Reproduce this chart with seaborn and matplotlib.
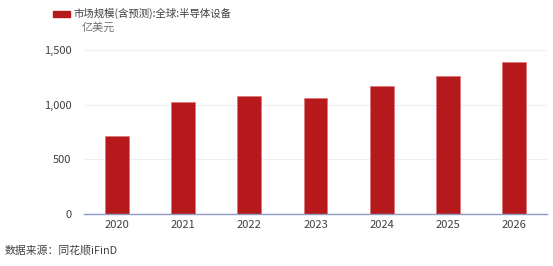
import matplotlib
matplotlib.use("Agg")
import matplotlib.pyplot as plt
import seaborn as sns
import pandas as pd
from matplotlib.patches import Rectangle

years = ["2020", "2021", "2022", "2023", "2024", "2025", "2026"]
values = [712, 1026, 1076, 1063, 1171, 1262, 1388]
yticks = [0, 500, 1000, 1500]
ytick_labels = ["0", "500", "1,000", "1,500"]
legend_label = "市场规模(含预测):全球:半导体设备"
unit_label = "亿美元"
source_label = "数据来源：同花顺iFinD"

sns.set_theme(style="white")
plt.rcParams['font.family'] = ['Noto Sans CJK SC', 'DejaVu Sans']

W, H = 553, 266
fig = plt.figure(figsize=(W / 100, H / 100), dpi=100)
ax = fig.add_axes([84 / W, 1 - 214 / H, (547 - 84) / W, (214 - 50) / H])

df = pd.DataFrame({"year": years, "value": values})
bar_color = "#B5191B"
sns.barplot(data=df, x="year", y="value", ax=ax, color=bar_color, width=0.36,
            saturation=1, edgecolor="#E07070", linewidth=0.4)

ax.set_ylim(0, 1500)
ax.set_xlim(-0.5, len(years) - 0.5)
ax.set_yticks(yticks)
ax.set_yticklabels(ytick_labels)
ax.set_xlabel("")
ax.set_ylabel("")
for s in ["top", "right", "left"]:
    ax.spines[s].set_visible(False)
ax.spines["bottom"].set_color("#8C9CC4")
ax.spines["bottom"].set_linewidth(1.0)
ax.yaxis.grid(True, color="#EEEEF4", linewidth=0.8)
ax.set_axisbelow(True)
ax.tick_params(axis="both", length=0, labelsize=8, labelcolor="#404040")
ax.tick_params(axis="y", pad=9)
ax.tick_params(axis="x", pad=4)

# legend
fig.patches.append(Rectangle((53 / W, 1 - 17 / H), 17 / W, 6 / H,
                             transform=fig.transFigure, color=bar_color))
fig.text(74 / W, 1 - 13.5 / H, legend_label, fontsize=7.5, color="#404040",
         va="center", ha="left")
fig.text(82 / W, 1 - 28 / H, unit_label, fontsize=8, color="#707070",
         va="center", ha="left")
fig.text(5 / W, 1 - 250 / H, source_label, fontsize=7.8, color="#404040",
         va="center", ha="left")

fig.savefig("out.png", dpi=100)
